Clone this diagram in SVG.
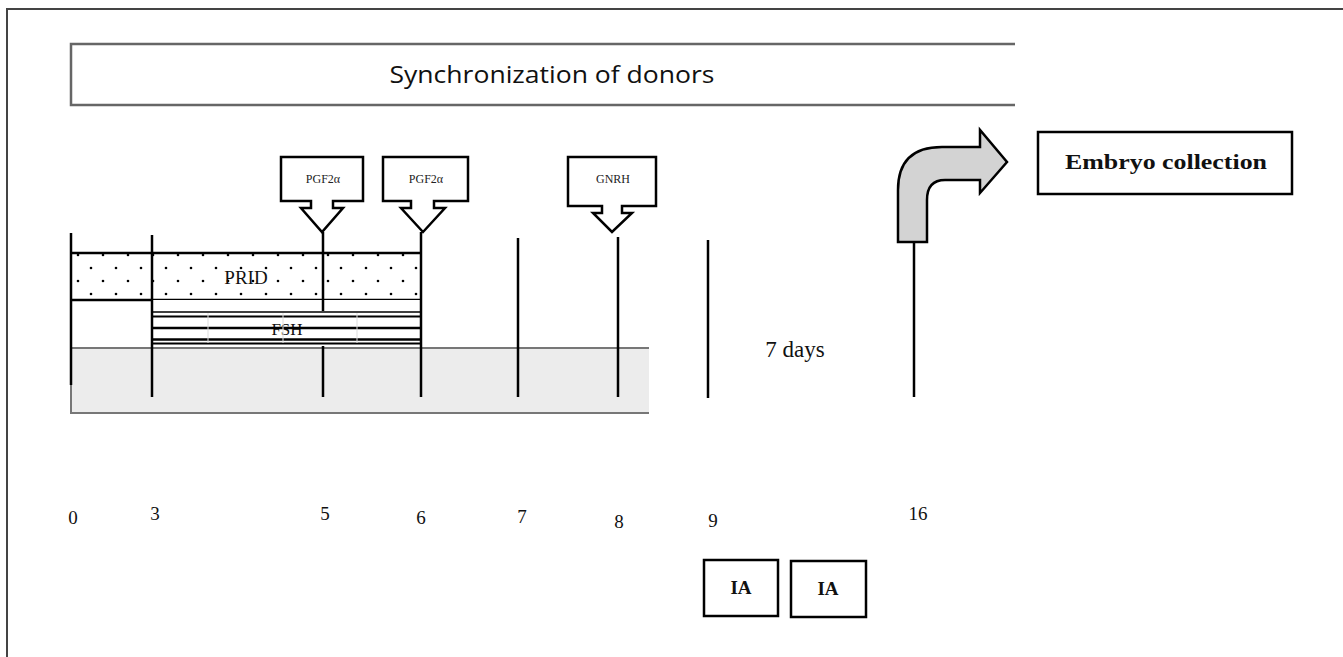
<svg xmlns="http://www.w3.org/2000/svg" width="1343" height="657" viewBox="0 0 1343 657">
<style>
.tl{stroke:#000;stroke-width:2.5;fill:none}
.box{fill:#fff;stroke:#000;stroke-width:2.5}
.serif{font-family:"Liberation Serif","DejaVu Serif",serif;fill:#111}
.num{font-family:"Liberation Serif","DejaVu Serif",serif;font-size:19px;fill:#111;text-anchor:middle}
.call{font-family:"Liberation Serif","DejaVu Serif",serif;font-size:12px;fill:#222;text-anchor:middle}
.bar{stroke:#000;fill:none}
</style>
<defs>
<pattern id="dots" patternUnits="userSpaceOnUse" x="70" y="253" width="25" height="26">
<circle cx="8" cy="2" r="1.3" fill="#000"/>
<circle cx="21" cy="15" r="1.3" fill="#000"/>
</pattern>
</defs>
<rect width="1343" height="657" fill="#fff"/>
<g id="frame">
<path d="M7,657 V9 H1343" fill="none" stroke="#444" stroke-width="2"/>
</g>
<g id="header">
<path d="M1015,44 H71 V105 H1015" fill="none" stroke="#666" stroke-width="2.5"/>
<text x="552" y="83" font-family="'Open Sans','Noto Sans',sans-serif" font-size="24" text-anchor="middle" textLength="325" lengthAdjust="spacingAndGlyphs" fill="#111">Synchronization of donors</text>
</g>
<g id="band">
<rect x="71" y="348" width="578" height="65" fill="#ececec"/>
<path d="M649,348 H71 M71,385 V413 H649" fill="none" stroke="#777" stroke-width="2"/>
</g>
<g id="prid">
<rect x="71" y="253" width="350" height="47" fill="url(#dots)"/>
<path d="M71,253 H421 M71,300 H421" class="bar" stroke-width="2.5"/>
<text x="246" y="284" class="serif" font-size="19" text-anchor="middle">PRID</text>
</g>
<g id="fsh">
<rect x="152" y="300" width="269" height="45" fill="#fff"/>
<text x="287" y="335" class="serif" font-size="17" text-anchor="middle">FSH</text>
<path d="M152,312 H421" class="bar" stroke-width="1.5"/>
<path d="M152,316.5 H421" class="bar" stroke-width="2"/>
<path d="M152,328 H421" class="bar" stroke-width="2.5"/>
<path d="M152,339.5 H421" class="bar" stroke-width="2.5"/>
<path d="M152,343.5 H421" class="bar" stroke-width="2"/>
<path d="M208,313 V343 M283,313 V343 M357,313 V343" stroke="#ddd" stroke-width="1"/>
</g>
<g id="connectors">
<path class="tl" d="M71,233 V385"/>
<path class="tl" d="M152,235 V397"/>
<path class="tl" d="M323,232 V311 M323,346 V397"/>
<path class="tl" d="M421,232 V397"/>
<path class="tl" d="M518,238 V397"/>
<path class="tl" d="M618,237 V397"/>
<path class="tl" d="M708,240 V398"/>
<path class="tl" d="M914,242 V397"/>
</g>
<g id="pgf1">
<path class="box" d="M281,157 H363 V201 H333 V208 H343 L322,232 L301,208 H311 V201 H281 Z"/>
<text x="323" y="183" class="call">PGF2α</text>
</g>
<g id="pgf2">
<path class="box" d="M383,157 H468 V201 H434 V208 H445 L423,232 L401,208 H411 V201 H383 Z"/>
<text x="426" y="183" class="call">PGF2α</text>
</g>
<g id="gnrh">
<path class="box" d="M568,157 H656 V206 H622 V213 H632 L612,232 L593,213 H602 V206 H568 Z"/>
<text x="613" y="183" class="call" font-size="11">GNRH</text>
</g>
<g id="embryo-arrow">
<path d="M898,242 V190 Q898,147 942,147 H980 V130 L1007,162 L980,193 V180 H945 Q927,180 927,200 V242 Z" fill="#d3d3d3" stroke="#000" stroke-width="2.5" stroke-linejoin="miter"/>
</g>
<g id="embryo-box">
<rect class="box" x="1038" y="132" width="254" height="62"/>
<text x="1166" y="169" class="serif" font-size="22" font-weight="bold" text-anchor="middle" textLength="202" lengthAdjust="spacingAndGlyphs">Embryo collection</text>
</g>
<g id="days">
<text x="795" y="357" class="serif" font-size="23" text-anchor="middle">7 days</text>
</g>
<g id="axis-labels">
<text x="73" y="524" class="num">0</text>
<text x="155" y="520" class="num">3</text>
<text x="325" y="520" class="num">5</text>
<text x="421" y="524" class="num">6</text>
<text x="522" y="523" class="num">7</text>
<text x="619" y="528" class="num">8</text>
<text x="713" y="527" class="num">9</text>
<text x="918" y="520" class="num">16</text>
</g>
<g id="ia1">
<rect class="box" x="704" y="560" width="74" height="56"/>
<text x="741" y="594" class="serif" font-size="19" font-weight="bold" text-anchor="middle">IA</text>
</g>
<g id="ia2">
<rect class="box" x="791" y="561" width="75" height="56"/>
<text x="828" y="595" class="serif" font-size="19" font-weight="bold" text-anchor="middle">IA</text>
</g>
</svg>
